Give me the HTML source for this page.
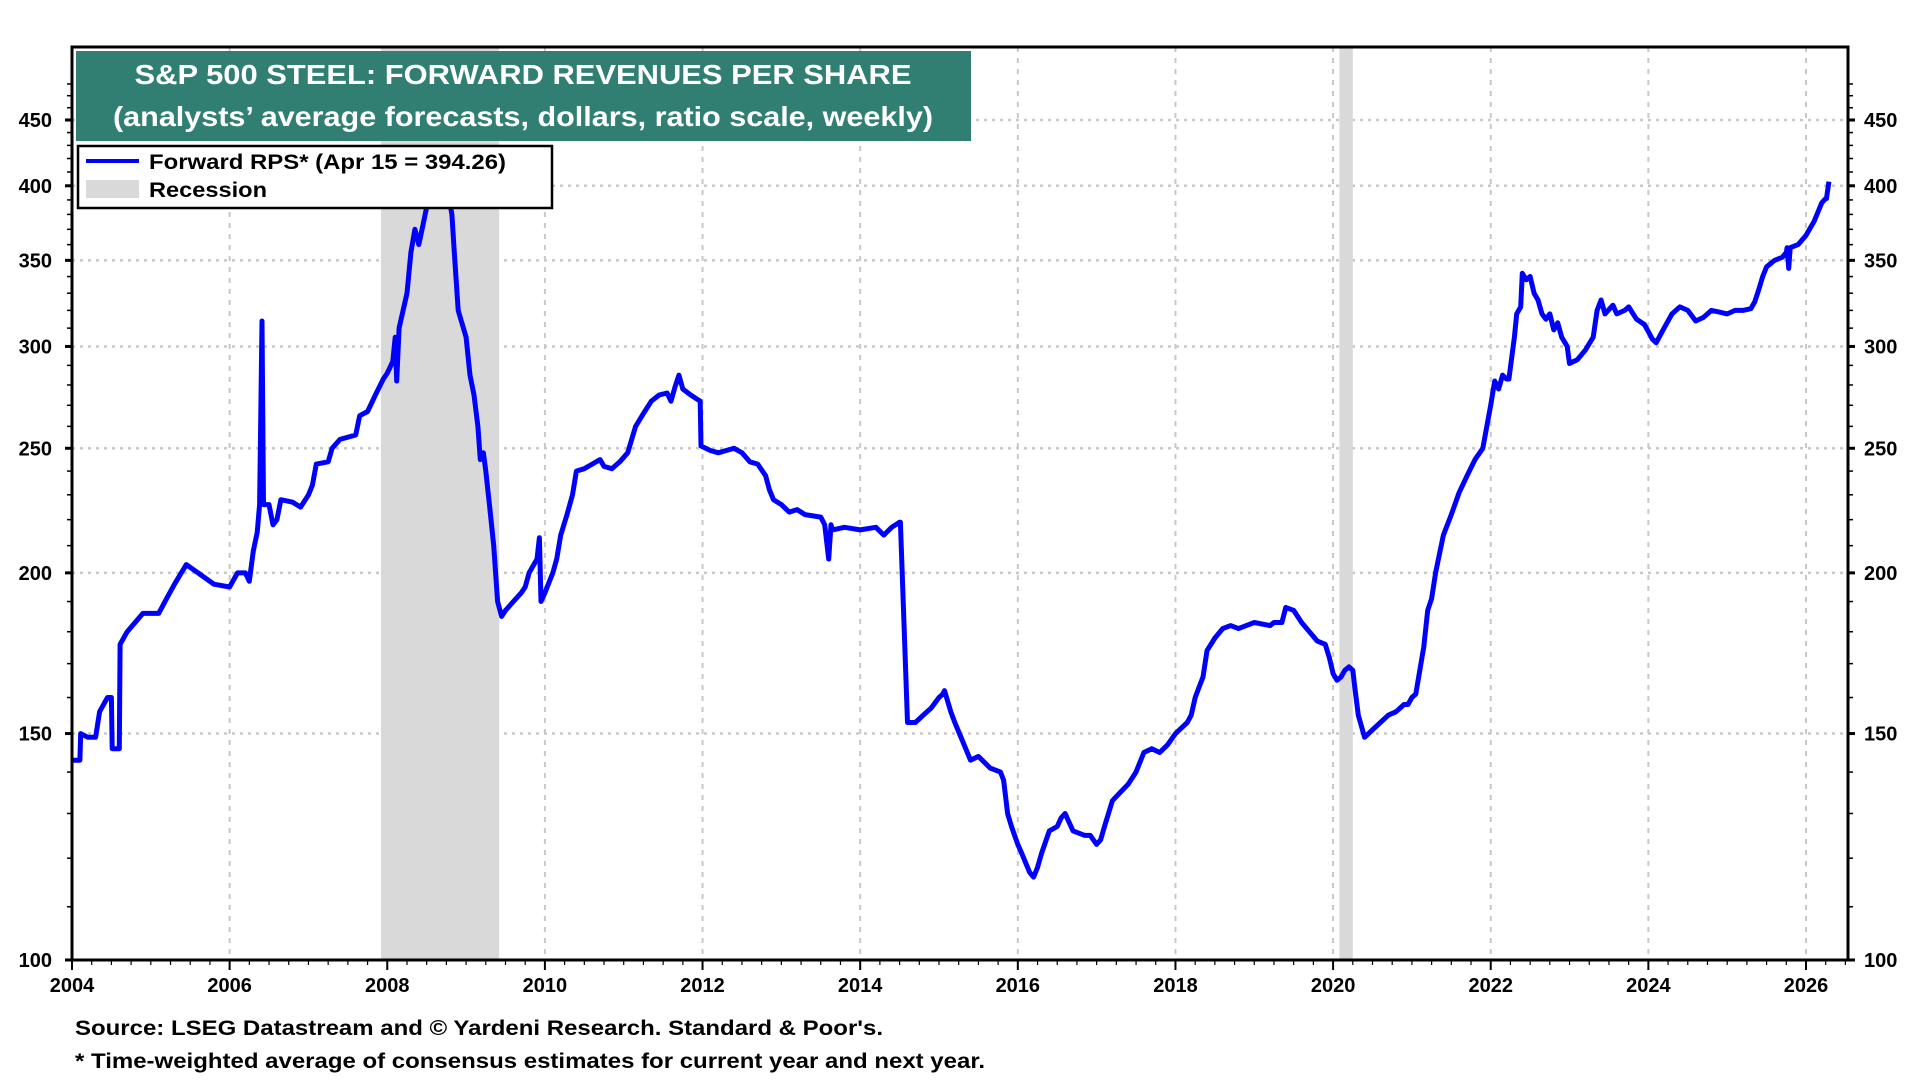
<!DOCTYPE html>
<html><head><meta charset="utf-8"><style>
html,body{margin:0;padding:0;background:#fff;}
svg{display:block;font-family:"Liberation Sans",Arial,sans-serif;font-weight:bold;}
</style></head><body>
<svg id="chart" width="1920" height="1080" viewBox="0 0 1920 1080" xmlns="http://www.w3.org/2000/svg">
<g id="grid"></g>
<g id="recessions"></g>
<g id="series"></g>
<g id="axes"></g>
<g>
<rect x="76" y="51" width="895" height="90" fill="#317f72"/>
<text x="523" y="84" fill="#fff" font-size="28" text-anchor="middle" textLength="777" lengthAdjust="spacingAndGlyphs">S&amp;P 500 STEEL: FORWARD REVENUES PER SHARE</text>
<text x="523" y="126" fill="#fff" font-size="28" text-anchor="middle" textLength="820" lengthAdjust="spacingAndGlyphs">(analysts’ average forecasts, dollars, ratio scale, weekly)</text>
</g>
<g>
<rect x="78" y="146" width="474" height="62" fill="#fff" stroke="#000" stroke-width="2.5"/>
<line x1="86" y1="161" x2="139" y2="161" stroke="#0000ff" stroke-width="4"/>
<text x="149" y="169" font-size="21" textLength="357" lengthAdjust="spacingAndGlyphs">Forward RPS* (Apr 15 = 394.26)</text>
<rect x="86" y="180" width="53" height="18" fill="#d9d9d9"/>
<text x="149" y="197" font-size="21" textLength="118" lengthAdjust="spacingAndGlyphs">Recession</text>
</g>
<text x="75" y="1035" font-size="21" textLength="808" lengthAdjust="spacingAndGlyphs">Source: LSEG Datastream and © Yardeni Research. Standard &amp; Poor's.</text>
<text x="75" y="1068" font-size="21" textLength="910" lengthAdjust="spacingAndGlyphs">* Time-weighted average of consensus estimates for current year and next year.</text>
</svg>
<script>
const yTicks=[100,150,200,250,300,350,400,450];
const xTickYears=[2004,2006,2008,2010,2012,2014,2016,2018,2020,2022,2024,2026];
const recStart=[2007.92,2020.08];
const recEnd=[2009.42,2020.25];
const years=[2004.0,2004.1,2004.11,2004.2,2004.3,2004.35,2004.45,2004.5,2004.51,2004.6,2004.61,2004.7,2004.9,2005.1,2005.2,2005.3,2005.45,2005.6,2005.8,2006.0,2006.1,2006.2,2006.25,2006.3,2006.35,2006.38,2006.41,2006.43,2006.5,2006.55,2006.6,2006.65,2006.8,2006.9,2007.0,2007.05,2007.1,2007.25,2007.3,2007.4,2007.6,2007.65,2007.75,2007.85,2007.95,2008.0,2008.07,2008.1,2008.12,2008.15,2008.25,2008.3,2008.35,2008.4,2008.45,2008.5,2008.58,2008.7,2008.77,2008.82,2008.85,2008.9,2009.0,2009.05,2009.1,2009.15,2009.18,2009.22,2009.25,2009.3,2009.35,2009.4,2009.45,2009.5,2009.6,2009.7,2009.75,2009.8,2009.9,2009.93,2009.95,2010.0,2010.1,2010.15,2010.2,2010.28,2010.35,2010.4,2010.5,2010.6,2010.7,2010.75,2010.85,2010.95,2011.05,2011.15,2011.25,2011.35,2011.45,2011.55,2011.6,2011.65,2011.7,2011.75,2011.85,2011.97,2011.98,2012.1,2012.2,2012.3,2012.4,2012.5,2012.6,2012.7,2012.8,2012.85,2012.9,2013.0,2013.1,2013.2,2013.3,2013.5,2013.55,2013.6,2013.63,2013.65,2013.8,2014.0,2014.2,2014.3,2014.4,2014.5,2014.51,2014.6,2014.7,2014.8,2014.9,2015.0,2015.05,2015.07,2015.15,2015.2,2015.3,2015.4,2015.5,2015.65,2015.78,2015.82,2015.87,2015.92,2016.0,2016.05,2016.15,2016.2,2016.25,2016.3,2016.4,2016.5,2016.55,2016.6,2016.7,2016.85,2016.92,2017.0,2017.05,2017.1,2017.2,2017.3,2017.4,2017.5,2017.6,2017.7,2017.8,2017.9,2018.0,2018.1,2018.15,2018.2,2018.25,2018.3,2018.35,2018.4,2018.5,2018.6,2018.7,2018.8,2019.0,2019.2,2019.25,2019.35,2019.4,2019.5,2019.6,2019.7,2019.8,2019.9,2019.95,2020.0,2020.05,2020.1,2020.15,2020.2,2020.25,2020.28,2020.32,2020.4,2020.5,2020.6,2020.7,2020.8,2020.9,2020.95,2021.0,2021.05,2021.1,2021.15,2021.2,2021.25,2021.3,2021.35,2021.4,2021.5,2021.6,2021.7,2021.8,2021.9,2021.95,2022.0,2022.05,2022.1,2022.15,2022.2,2022.23,2022.3,2022.33,2022.38,2022.4,2022.45,2022.5,2022.55,2022.6,2022.65,2022.7,2022.75,2022.8,2022.85,2022.9,2022.97,2023.0,2023.1,2023.2,2023.3,2023.35,2023.4,2023.45,2023.55,2023.6,2023.7,2023.75,2023.85,2023.95,2024.0,2024.05,2024.1,2024.2,2024.3,2024.4,2024.5,2024.6,2024.7,2024.8,2024.9,2025.0,2025.1,2025.2,2025.3,2025.35,2025.4,2025.45,2025.5,2025.6,2025.7,2025.75,2025.76,2025.78,2025.8,2025.9,2026.0,2026.1,2026.2,2026.25,2026.26,2026.29];
const values=[143,143,150,149,149,156,160,160,146,146,176,180,186,186,191,196,203,200,196,195,200,200,197,208,215,226,314,226,226,218,220,228,227,225,230,234,243,244,250,254,256,265,267,275,283,286,292,305,282,310,330,355,370,360,372,385,395,398,395,380,355,320,305,285,275,260,245,248,240,225,210,190,185,187,190,193,195,200,205,213,190,193,200,205,214,222,230,240,241,243,245,242,241,244,248,260,266,272,275,276,272,279,285,278,275,272,251,249,248,249,250,248,244,243,238,232,228,226,223,224,222,221,218,205,218,216,217,216,217,214,217,219,219,153,153,155,157,160,161,162,156,153,148,143,144,141,140,138,130,127,123,121,117,116,118,121,126,127,129,130,126,125,125,123,124,127,133,135,137,140,145,146,145,147,150,152,153,155,160,163,166,174,178,181,182,181,183,182,183,183,188,187,183,180,177,176,172,167,165,166,168,169,168,162,155,149,151,153,155,156,158,158,160,161,168,175,187,191,200,207,214,222,231,238,245,250,260,270,282,278,285,283,283,305,318,322,342,338,340,330,326,318,315,318,309,313,305,300,291,293,298,305,320,326,318,323,318,320,322,315,312,308,304,302,310,318,322,320,314,316,320,319,318,320,320,321,325,332,340,346,350,352,355,358,345,358,360,366,375,388,391,391,403,394];

const NS="http://www.w3.org/2000/svg";
const L=72,R=1848,T=47,B=960;
const x=yr=>L+(yr-2004)*(1806-L)/22;
const y=v=>B-Math.log(v/100)/Math.log(4.5)*(B-120);
function mk(tag,attrs,parent){const e=document.createElementNS(NS,tag);for(const k in attrs)e.setAttribute(k,attrs[k]);parent.appendChild(e);return e;}
const grid=document.getElementById('grid'),rec=document.getElementById('recessions'),ser=document.getElementById('series'),ax=document.getElementById('axes');
for(let i=0;i<recStart.length;i++){
  const r=mk('rect',{x:x(recStart[i]),y:T,width:x(recEnd[i])-x(recStart[i]),height:B-T,fill:'#d9d9d9'},rec);
  
  
}
for(const t of yTicks){
  if(t>100){const g=mk('line',{x1:L,x2:R,y1:y(t),y2:y(t),stroke:'#c8c8c8','stroke-width':2.5,'stroke-dasharray':'3,5'},grid);
  
  }
  for(const side of [0,1]){
    const tx=mk('text',{x:side?1864:52,y:y(t)+7,'font-size':20,'text-anchor':side?'start':'end'},ax);
    tx.textContent=t;
    
    
    mk('line',{x1:side?R:L-7,x2:side?R+7:L,y1:y(t),y2:y(t),stroke:'#000','stroke-width':3},ax);
  }
}
for(let v=110;v<=480;v+=10){if(v%50)for(const side of [0,1])mk('line',{x1:side?R:L-5,x2:side?R+5:L,y1:y(v),y2:y(v),stroke:'#000','stroke-width':1.5},ax);}
for(const yr of xTickYears){
  if(yr>2004){const g=mk('line',{x1:x(yr),x2:x(yr),y1:T,y2:B,stroke:'#c8c8c8','stroke-width':2,'stroke-dasharray':'5,6'},grid);
  
  }
  const tx=mk('text',{x:x(yr),y:B+32,'font-size':20,'text-anchor':'middle'},ax);
  tx.textContent=yr;
  
  
  mk('line',{x1:x(yr),x2:x(yr),y1:B,y2:B+10,stroke:'#000','stroke-width':2},ax);
}
for(let q=2004;q<=2026.5;q+=0.25)mk('line',{x1:x(q),x2:x(q),y1:B,y2:B+5,stroke:'#000','stroke-width':1.2},ax);
const fr=mk('rect',{x:L,y:T,width:R-L,height:B-T,fill:'none',stroke:'#000','stroke-width':3},ax);


let d='';
for(let i=0;i<years.length;i++)d+=(i?'L':'M')+x(years[i]).toFixed(1)+','+y(values[i]).toFixed(1);
const p=mk('path',{d:d,fill:'none',stroke:'#0000ff','stroke-width':5,'stroke-linejoin':'round'},ser);


</script>
</body></html>
